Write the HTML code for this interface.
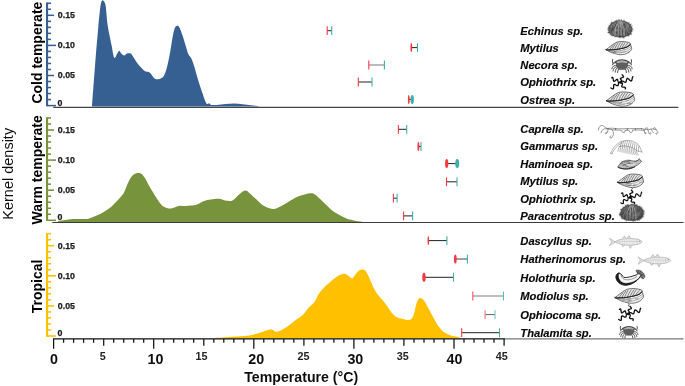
<!DOCTYPE html>
<html><head><meta charset="utf-8"><title>Thermal tolerance kernel density</title>
<style>html,body{margin:0;padding:0;background:#fff}svg{display:block}text{font-family:"Liberation Sans",Arial,sans-serif}.sp{font-size:11.2px;font-weight:bold;font-style:italic;fill:#080808;stroke:#080808;stroke-width:.12px}.yt{font-size:8.8px;font-weight:bold;fill:#1c1c1c;stroke:#1c1c1c;stroke-width:.25px}.xb{font-size:14.3px;font-weight:bold;fill:#111;text-anchor:middle}.xs{font-size:10.8px;font-weight:bold;fill:#222;text-anchor:middle}.pl{font-size:14px;font-weight:bold;fill:#000;text-anchor:middle}</style></head><body>
<svg width="685" height="386" viewBox="0 0 685 386">
<defs><filter id="soft" x="-5%" y="-5%" width="110%" height="110%"><feGaussianBlur stdDeviation="0.35"/></filter><filter id="tx" x="-2%" y="-2%" width="104%" height="104%"><feGaussianBlur stdDeviation="0.3"/></filter></defs>
<rect width="685" height="386" fill="#fff"/>
<path d="M92.0,106.5C92.6,98.2 94.7,70.2 95.7,57.0C96.8,43.8 97.7,34.2 98.3,27.0C98.9,19.8 99.2,17.3 99.6,13.5C100.0,9.7 100.3,6.2 100.8,4.0C101.3,1.8 101.8,0.7 102.4,0.3C103.0,-0.1 103.7,0.9 104.2,1.8C104.7,2.7 105.2,3.3 105.6,5.4C106.0,7.5 106.2,10.9 106.5,14.2C106.8,17.5 107.1,21.7 107.6,25.0C108.1,28.3 108.6,30.8 109.3,34.2C110.0,37.6 110.8,41.7 111.6,45.6C112.4,49.5 113.3,56.4 114.2,57.8C115.1,59.2 116.2,55.2 117.0,54.0C117.8,52.8 118.6,50.8 119.3,50.7C120.0,50.6 120.5,52.8 121.3,53.6C122.1,54.4 123.2,55.6 124.2,55.6C125.2,55.6 125.9,53.9 127.0,53.6C128.1,53.3 129.8,53.2 130.7,53.6C131.6,54.0 131.6,54.5 132.7,56.0C133.8,57.5 135.6,60.7 137.0,62.7C138.4,64.7 140.0,66.4 141.3,67.8C142.6,69.2 143.8,70.5 145.0,71.2C146.2,71.9 147.5,71.6 148.4,72.0C149.3,72.4 149.8,72.6 150.7,73.5C151.5,74.4 152.7,76.6 153.5,77.5C154.3,78.4 154.7,78.7 155.5,79.0C156.3,79.3 157.4,79.3 158.3,79.2C159.2,79.1 160.2,78.9 161.2,78.3C162.1,77.7 163.0,77.4 164.0,75.5C165.0,73.6 166.0,70.8 167.0,67.0C168.0,63.2 169.0,58.2 170.0,53.0C171.0,47.8 172.0,40.2 172.8,36.0C173.6,31.8 174.1,29.7 174.8,28.0C175.5,26.3 176.3,25.9 177.1,25.8C177.9,25.7 178.5,25.8 179.4,27.4C180.3,29.0 181.6,32.6 182.6,35.6C183.6,38.6 184.6,42.5 185.6,45.6C186.6,48.7 187.3,51.9 188.3,54.1C189.3,56.3 190.6,56.9 191.6,59.0C192.6,61.1 193.4,63.8 194.4,67.0C195.4,70.2 196.5,74.4 197.7,78.4C198.9,82.4 200.5,87.4 201.8,91.2C203.1,95.0 204.4,99.1 205.3,101.2C206.2,103.3 206.4,103.7 207.0,104.0C207.6,104.3 208.3,103.0 209.0,103.2C209.7,103.4 210.0,104.6 211.3,104.9C212.6,105.2 214.6,105.1 217.0,104.9C219.4,104.8 222.7,104.2 225.5,104.0C228.3,103.8 231.2,103.5 234.0,103.5C236.8,103.5 239.7,104.0 242.6,104.3C245.5,104.6 248.3,104.8 251.2,105.2C254.0,105.6 258.3,106.3 259.7,106.5L259.7,106.6L92.0,106.6Z" fill="#376092"/>
<path d="M58.0,221.2C58.6,221.1 59.9,220.8 61.7,220.5C63.5,220.2 66.8,219.7 68.7,219.4C70.7,219.1 70.7,219.0 73.4,218.9C76.1,218.8 82.3,219.2 85.0,219.1C87.7,219.0 87.8,218.8 89.7,218.2C91.7,217.6 94.4,216.4 96.7,215.4C99.0,214.4 101.4,213.3 103.7,211.9C106.0,210.5 108.4,209.1 110.7,207.2C113.0,205.2 115.6,202.5 117.7,200.2C119.8,197.9 122.0,195.7 123.6,193.2C125.2,190.7 125.9,187.5 127.1,185.0C128.3,182.5 129.4,179.8 130.6,178.0C131.8,176.2 132.8,175.1 134.1,174.3C135.4,173.5 137.1,173.1 138.3,173.1C139.6,173.1 140.6,173.3 141.6,174.1C142.6,174.8 143.5,176.0 144.6,177.6C145.7,179.2 146.7,181.5 148.1,183.9C149.5,186.3 151.2,189.4 152.8,192.0C154.4,194.6 155.9,197.3 157.5,199.5C159.1,201.7 160.5,204.0 162.1,205.4C163.7,206.8 165.2,207.4 166.8,207.9C168.4,208.4 169.9,208.6 171.5,208.4C173.1,208.2 174.8,207.2 176.1,206.8C177.4,206.4 178.0,205.9 179.6,205.8C181.2,205.7 183.6,206.1 185.5,206.1C187.4,206.1 189.4,205.9 191.3,205.6C193.2,205.3 195.1,205.2 197.2,204.4C199.3,203.6 201.7,201.7 204.0,200.9C206.3,200.1 208.5,199.8 211.0,199.5C213.5,199.2 216.9,198.6 219.2,198.8C221.5,199.0 222.9,200.2 225.0,200.5C227.1,200.8 230.1,201.3 232.0,200.7C233.9,200.1 235.1,198.1 236.7,196.7C238.3,195.3 239.9,193.5 241.4,192.5C242.9,191.5 244.2,190.5 245.6,190.6C247.0,190.7 248.0,191.9 249.6,193.2C251.2,194.5 253.3,196.6 255.4,198.6C257.5,200.6 260.1,203.3 262.4,204.9C264.7,206.5 267.4,207.5 269.4,208.2C271.3,208.9 272.5,209.1 274.1,208.9C275.7,208.7 276.5,208.4 278.8,207.2C281.1,206.0 285.0,203.7 288.1,201.9C291.2,200.2 294.7,197.9 297.4,196.7C300.1,195.4 302.1,195.0 304.5,194.4C306.9,193.8 309.8,193.2 311.5,193.2C313.2,193.2 313.6,193.5 315.0,194.4C316.4,195.3 317.9,197.0 319.6,198.6C321.4,200.2 323.4,202.2 325.5,204.2C327.6,206.2 330.2,208.9 332.5,210.7C334.8,212.5 337.2,213.6 339.5,214.9C341.8,216.2 344.8,217.6 346.5,218.4C348.2,219.2 348.4,219.2 350.0,219.6C351.6,220.0 353.8,220.6 356.0,221.0C358.2,221.4 361.8,221.8 363.0,222.0L363.0,222.2L58.0,222.2Z" fill="#77933c"/>
<path d="M215.0,338.0C216.2,337.9 219.2,337.8 222.5,337.6C225.8,337.4 230.7,336.9 234.8,336.6C238.9,336.3 243.4,336.2 247.1,335.7C250.8,335.2 253.8,334.5 256.9,333.7C260.0,332.9 263.0,331.4 265.5,330.7C268.0,330.0 270.2,329.4 271.7,329.5C273.2,329.6 273.7,330.8 274.6,331.2C275.5,331.6 275.5,332.1 277.1,331.7C278.7,331.3 281.2,330.5 284.0,328.8C286.8,327.1 290.7,323.7 293.8,321.4C296.9,319.1 300.0,317.5 302.5,315.2C305.0,312.9 306.6,310.1 308.6,307.8C310.7,305.6 313.2,303.9 314.8,301.7C316.4,299.4 317.1,296.6 318.5,294.3C319.9,292.1 321.3,290.3 323.4,288.2C325.4,286.1 328.3,283.6 330.8,281.5C333.3,279.4 336.1,277.1 338.2,275.8C340.3,274.5 342.0,274.1 343.4,273.9C344.8,273.7 345.5,273.9 346.5,274.4C347.5,274.9 348.6,276.1 349.5,276.8C350.4,277.5 351.2,278.9 352.2,278.5C353.2,278.1 354.4,275.6 355.6,274.2C356.8,272.8 358.1,271.1 359.4,270.3C360.6,269.5 362.0,269.3 363.1,269.5C364.2,269.7 365.2,270.3 366.2,271.7C367.2,273.1 368.0,275.1 369.2,277.7C370.4,280.3 372.1,284.7 373.5,287.5C374.9,290.3 376.3,292.6 377.5,294.3C378.7,296.1 379.1,296.1 380.6,298.0C382.2,299.9 385.0,302.9 386.8,305.4C388.6,307.9 390.1,310.9 391.7,312.8C393.3,314.7 394.8,316.0 396.6,317.0C398.5,318.0 401.0,318.4 402.8,318.9C404.6,319.4 406.3,319.9 407.7,319.9C409.1,319.9 410.4,319.8 411.4,318.9C412.4,318.0 413.0,316.9 413.8,314.5C414.6,312.1 415.5,306.8 416.3,304.2C417.1,301.6 417.9,299.6 418.8,298.7C419.7,297.8 420.7,298.0 421.7,298.5C422.7,299.0 423.8,300.0 424.9,301.7C426.0,303.4 427.2,305.9 428.6,308.6C430.0,311.3 431.9,314.8 433.5,317.7C435.1,320.6 436.9,324.0 438.5,326.3C440.1,328.6 441.6,330.3 443.4,331.7C445.2,333.1 447.4,334.1 449.5,334.9C451.6,335.7 453.8,336.1 455.7,336.6C457.6,337.1 459.8,337.6 460.6,337.8L460.6,338.6L215.0,338.6Z" fill="#ffc000"/>
<line x1="53.2" y1="107.4" x2="678.3" y2="107.4" stroke="#444" stroke-width="1.25"/>
<line x1="52.3" y1="222.55" x2="683.5" y2="222.55" stroke="#3a3a3a" stroke-width="1.1"/>
<line x1="504" y1="338.9" x2="683.5" y2="338.9" stroke="#777" stroke-width="1.1"/>
<g stroke="#376092" fill="none"><line x1="47.05" y1="2.61" x2="47.05" y2="106.25" stroke-width="2.1"/><line x1="47" y1="105.60" x2="56" y2="105.60" stroke-width="1.55"/><line x1="47" y1="99.58" x2="51" y2="99.58" stroke-width="1.55"/><line x1="47" y1="93.56" x2="51" y2="93.56" stroke-width="1.55"/><line x1="47" y1="87.54" x2="51" y2="87.54" stroke-width="1.55"/><line x1="47" y1="81.52" x2="51" y2="81.52" stroke-width="1.55"/><line x1="47" y1="75.50" x2="54" y2="75.50" stroke-width="1.55"/><line x1="47" y1="69.48" x2="51" y2="69.48" stroke-width="1.55"/><line x1="47" y1="63.46" x2="51" y2="63.46" stroke-width="1.55"/><line x1="47" y1="57.44" x2="51" y2="57.44" stroke-width="1.55"/><line x1="47" y1="51.42" x2="51" y2="51.42" stroke-width="1.55"/><line x1="47" y1="45.40" x2="56" y2="45.40" stroke-width="1.55"/><line x1="47" y1="39.38" x2="51" y2="39.38" stroke-width="1.55"/><line x1="47" y1="33.36" x2="51" y2="33.36" stroke-width="1.55"/><line x1="47" y1="27.34" x2="51" y2="27.34" stroke-width="1.55"/><line x1="47" y1="21.32" x2="51" y2="21.32" stroke-width="1.55"/><line x1="47" y1="15.30" x2="54" y2="15.30" stroke-width="1.55"/><line x1="47" y1="9.28" x2="51" y2="9.28" stroke-width="1.55"/><line x1="47" y1="3.26" x2="51" y2="3.26" stroke-width="1.55"/></g>
<g stroke="#77933c" fill="none"><line x1="47.05" y1="117.31" x2="47.05" y2="220.95" stroke-width="2.1"/><line x1="47" y1="220.30" x2="56" y2="220.30" stroke-width="1.55"/><line x1="47" y1="214.28" x2="51" y2="214.28" stroke-width="1.55"/><line x1="47" y1="208.26" x2="51" y2="208.26" stroke-width="1.55"/><line x1="47" y1="202.24" x2="51" y2="202.24" stroke-width="1.55"/><line x1="47" y1="196.22" x2="51" y2="196.22" stroke-width="1.55"/><line x1="47" y1="190.20" x2="54" y2="190.20" stroke-width="1.55"/><line x1="47" y1="184.18" x2="51" y2="184.18" stroke-width="1.55"/><line x1="47" y1="178.16" x2="51" y2="178.16" stroke-width="1.55"/><line x1="47" y1="172.14" x2="51" y2="172.14" stroke-width="1.55"/><line x1="47" y1="166.12" x2="51" y2="166.12" stroke-width="1.55"/><line x1="47" y1="160.10" x2="56" y2="160.10" stroke-width="1.55"/><line x1="47" y1="154.08" x2="51" y2="154.08" stroke-width="1.55"/><line x1="47" y1="148.06" x2="51" y2="148.06" stroke-width="1.55"/><line x1="47" y1="142.04" x2="51" y2="142.04" stroke-width="1.55"/><line x1="47" y1="136.02" x2="51" y2="136.02" stroke-width="1.55"/><line x1="47" y1="130.00" x2="54" y2="130.00" stroke-width="1.55"/><line x1="47" y1="123.98" x2="51" y2="123.98" stroke-width="1.55"/><line x1="47" y1="117.96" x2="51" y2="117.96" stroke-width="1.55"/></g>
<g stroke="#ffc000" fill="none"><line x1="47.05" y1="233.01" x2="47.05" y2="336.65" stroke-width="2.1"/><line x1="47" y1="336.00" x2="56" y2="336.00" stroke-width="1.55"/><line x1="47" y1="329.98" x2="51" y2="329.98" stroke-width="1.55"/><line x1="47" y1="323.96" x2="51" y2="323.96" stroke-width="1.55"/><line x1="47" y1="317.94" x2="51" y2="317.94" stroke-width="1.55"/><line x1="47" y1="311.92" x2="51" y2="311.92" stroke-width="1.55"/><line x1="47" y1="305.90" x2="54" y2="305.90" stroke-width="1.55"/><line x1="47" y1="299.88" x2="51" y2="299.88" stroke-width="1.55"/><line x1="47" y1="293.86" x2="51" y2="293.86" stroke-width="1.55"/><line x1="47" y1="287.84" x2="51" y2="287.84" stroke-width="1.55"/><line x1="47" y1="281.82" x2="51" y2="281.82" stroke-width="1.55"/><line x1="47" y1="275.80" x2="56" y2="275.80" stroke-width="1.55"/><line x1="47" y1="269.78" x2="51" y2="269.78" stroke-width="1.55"/><line x1="47" y1="263.76" x2="51" y2="263.76" stroke-width="1.55"/><line x1="47" y1="257.74" x2="51" y2="257.74" stroke-width="1.55"/><line x1="47" y1="251.72" x2="51" y2="251.72" stroke-width="1.55"/><line x1="47" y1="245.70" x2="54" y2="245.70" stroke-width="1.55"/><line x1="47" y1="239.68" x2="51" y2="239.68" stroke-width="1.55"/><line x1="47" y1="233.66" x2="51" y2="233.66" stroke-width="1.55"/></g>
<g stroke="#111" fill="none"><line x1="53" y1="338.9" x2="504.6" y2="338.9" stroke-width="1.2"/><line x1="53.6" y1="338.9" x2="53.6" y2="348.8" stroke-width="1.25"/><line x1="63.6" y1="338.9" x2="63.6" y2="342.8" stroke-width="1.25"/><line x1="73.6" y1="338.9" x2="73.6" y2="342.8" stroke-width="1.25"/><line x1="83.6" y1="338.9" x2="83.6" y2="342.8" stroke-width="1.25"/><line x1="93.6" y1="338.9" x2="93.6" y2="342.8" stroke-width="1.25"/><line x1="103.7" y1="338.9" x2="103.7" y2="345.7" stroke-width="1.25"/><line x1="113.7" y1="338.9" x2="113.7" y2="342.8" stroke-width="1.25"/><line x1="123.7" y1="338.9" x2="123.7" y2="342.8" stroke-width="1.25"/><line x1="133.7" y1="338.9" x2="133.7" y2="342.8" stroke-width="1.25"/><line x1="143.7" y1="338.9" x2="143.7" y2="342.8" stroke-width="1.25"/><line x1="153.7" y1="338.9" x2="153.7" y2="348.8" stroke-width="1.25"/><line x1="163.7" y1="338.9" x2="163.7" y2="342.8" stroke-width="1.25"/><line x1="173.7" y1="338.9" x2="173.7" y2="342.8" stroke-width="1.25"/><line x1="183.7" y1="338.9" x2="183.7" y2="342.8" stroke-width="1.25"/><line x1="193.7" y1="338.9" x2="193.7" y2="342.8" stroke-width="1.25"/><line x1="203.8" y1="338.9" x2="203.8" y2="345.7" stroke-width="1.25"/><line x1="213.8" y1="338.9" x2="213.8" y2="342.8" stroke-width="1.25"/><line x1="223.8" y1="338.9" x2="223.8" y2="342.8" stroke-width="1.25"/><line x1="233.8" y1="338.9" x2="233.8" y2="342.8" stroke-width="1.25"/><line x1="243.8" y1="338.9" x2="243.8" y2="342.8" stroke-width="1.25"/><line x1="253.8" y1="338.9" x2="253.8" y2="348.8" stroke-width="1.25"/><line x1="263.8" y1="338.9" x2="263.8" y2="342.8" stroke-width="1.25"/><line x1="273.8" y1="338.9" x2="273.8" y2="342.8" stroke-width="1.25"/><line x1="283.8" y1="338.9" x2="283.8" y2="342.8" stroke-width="1.25"/><line x1="293.8" y1="338.9" x2="293.8" y2="342.8" stroke-width="1.25"/><line x1="303.9" y1="338.9" x2="303.9" y2="345.7" stroke-width="1.25"/><line x1="313.9" y1="338.9" x2="313.9" y2="342.8" stroke-width="1.25"/><line x1="323.9" y1="338.9" x2="323.9" y2="342.8" stroke-width="1.25"/><line x1="333.9" y1="338.9" x2="333.9" y2="342.8" stroke-width="1.25"/><line x1="343.9" y1="338.9" x2="343.9" y2="342.8" stroke-width="1.25"/><line x1="353.9" y1="338.9" x2="353.9" y2="348.8" stroke-width="1.25"/><line x1="363.9" y1="338.9" x2="363.9" y2="342.8" stroke-width="1.25"/><line x1="373.9" y1="338.9" x2="373.9" y2="342.8" stroke-width="1.25"/><line x1="383.9" y1="338.9" x2="383.9" y2="342.8" stroke-width="1.25"/><line x1="393.9" y1="338.9" x2="393.9" y2="342.8" stroke-width="1.25"/><line x1="403.9" y1="338.9" x2="403.9" y2="345.7" stroke-width="1.25"/><line x1="414.0" y1="338.9" x2="414.0" y2="342.8" stroke-width="1.25"/><line x1="424.0" y1="338.9" x2="424.0" y2="342.8" stroke-width="1.25"/><line x1="434.0" y1="338.9" x2="434.0" y2="342.8" stroke-width="1.25"/><line x1="444.0" y1="338.9" x2="444.0" y2="342.8" stroke-width="1.25"/><line x1="454.0" y1="338.9" x2="454.0" y2="348.8" stroke-width="1.25"/><line x1="464.0" y1="338.9" x2="464.0" y2="342.8" stroke-width="1.25"/><line x1="474.0" y1="338.9" x2="474.0" y2="342.8" stroke-width="1.25"/><line x1="484.0" y1="338.9" x2="484.0" y2="342.8" stroke-width="1.25"/><line x1="494.0" y1="338.9" x2="494.0" y2="342.8" stroke-width="1.25"/><line x1="504.1" y1="338.9" x2="504.1" y2="345.7" stroke-width="1.25"/></g>
<g opacity="1"><line x1="327.2" y1="30.7" x2="331.7" y2="30.7" stroke="#222" stroke-width="1"/><line x1="327.2" y1="26.299999999999997" x2="327.2" y2="35.1" stroke="#ff3540" stroke-width="1.1"/><line x1="331.7" y1="26.299999999999997" x2="331.7" y2="35.1" stroke="#3cb0ad" stroke-width="1.1"/></g>
<g opacity="1"><line x1="411.3" y1="47.6" x2="417.5" y2="47.6" stroke="#222" stroke-width="1"/><ellipse cx="411.3" cy="47.6" rx="0.9" ry="4.5" fill="#ff3540"/><line x1="417.5" y1="43.2" x2="417.5" y2="52.0" stroke="#3cb0ad" stroke-width="1.1"/></g>
<g opacity="1"><line x1="368.8" y1="65.0" x2="384.4" y2="65.0" stroke="#777" stroke-width="1"/><line x1="368.8" y1="60.6" x2="368.8" y2="69.4" stroke="#ff3540" stroke-width="1.1"/><line x1="384.4" y1="60.6" x2="384.4" y2="69.4" stroke="#3cb0ad" stroke-width="1.1"/></g>
<g opacity="1"><line x1="358.3" y1="82.0" x2="372.0" y2="82.0" stroke="#222" stroke-width="1"/><line x1="358.3" y1="77.6" x2="358.3" y2="86.4" stroke="#ff3540" stroke-width="1.1"/><line x1="372.0" y1="77.6" x2="372.0" y2="86.4" stroke="#3cb0ad" stroke-width="1.1"/></g>
<g opacity="1"><line x1="408.8" y1="99.4" x2="412.2" y2="99.4" stroke="#222" stroke-width="1"/><ellipse cx="408.8" cy="99.4" rx="0.9" ry="4.5" fill="#ff3540"/><ellipse cx="412.2" cy="99.4" rx="1.7" ry="4.5" fill="#3cb0ad"/></g>
<g opacity="1"><line x1="398.4" y1="129.3" x2="406.7" y2="129.3" stroke="#222" stroke-width="1"/><line x1="398.4" y1="124.9" x2="398.4" y2="133.70000000000002" stroke="#ff3540" stroke-width="1.1"/><line x1="406.7" y1="124.9" x2="406.7" y2="133.70000000000002" stroke="#3cb0ad" stroke-width="1.1"/></g>
<g opacity="1"><line x1="418.4" y1="146.5" x2="421.0" y2="146.5" stroke="#222" stroke-width="1"/><ellipse cx="418.4" cy="146.5" rx="1.0" ry="4.5" fill="#ff3540"/><line x1="421.0" y1="142.1" x2="421.0" y2="150.9" stroke="#3cb0ad" stroke-width="1.1"/></g>
<g opacity="1"><line x1="446.7" y1="163.6" x2="457.2" y2="163.6" stroke="#222" stroke-width="1"/><ellipse cx="446.7" cy="163.6" rx="1.6" ry="4.5" fill="#ff3540"/><ellipse cx="457.2" cy="163.6" rx="2.0" ry="4.5" fill="#3cb0ad"/></g>
<g opacity="1"><line x1="446.5" y1="181.8" x2="457.0" y2="181.8" stroke="#222" stroke-width="1"/><line x1="446.5" y1="177.4" x2="446.5" y2="186.20000000000002" stroke="#ff3540" stroke-width="1.1"/><line x1="457.0" y1="177.4" x2="457.0" y2="186.20000000000002" stroke="#3cb0ad" stroke-width="1.1"/></g>
<g opacity="1"><line x1="393.4" y1="198.2" x2="397.1" y2="198.2" stroke="#222" stroke-width="1"/><line x1="393.4" y1="193.79999999999998" x2="393.4" y2="202.6" stroke="#ff3540" stroke-width="1.1"/><line x1="397.1" y1="193.79999999999998" x2="397.1" y2="202.6" stroke="#3cb0ad" stroke-width="1.1"/></g>
<g opacity="1"><line x1="403.6" y1="215.9" x2="412.6" y2="215.9" stroke="#222" stroke-width="1"/><line x1="403.6" y1="211.5" x2="403.6" y2="220.3" stroke="#ff3540" stroke-width="1.1"/><line x1="412.6" y1="211.5" x2="412.6" y2="220.3" stroke="#3cb0ad" stroke-width="1.1"/></g>
<g opacity="1"><line x1="428.3" y1="240.6" x2="446.9" y2="240.6" stroke="#222" stroke-width="1"/><ellipse cx="428.3" cy="240.6" rx="0.8" ry="4.5" fill="#ff3540"/><line x1="446.9" y1="236.2" x2="446.9" y2="245.0" stroke="#3cb0ad" stroke-width="1.1"/></g>
<g opacity="1"><line x1="455.3" y1="259.0" x2="467.4" y2="259.0" stroke="#444" stroke-width="1"/><ellipse cx="455.3" cy="259.0" rx="1.4" ry="4.5" fill="#ff3540"/><line x1="467.4" y1="254.6" x2="467.4" y2="263.4" stroke="#3cb0ad" stroke-width="1.1"/></g>
<g opacity="1"><line x1="424.0" y1="277.3" x2="453.5" y2="277.3" stroke="#222" stroke-width="1"/><ellipse cx="424.0" cy="277.3" rx="1.7" ry="4.5" fill="#ff3540"/><line x1="453.5" y1="272.90000000000003" x2="453.5" y2="281.7" stroke="#3cb0ad" stroke-width="1.1"/></g>
<g opacity="0.85"><line x1="472.8" y1="296.0" x2="503.5" y2="296.0" stroke="#666" stroke-width="1"/><line x1="472.8" y1="291.6" x2="472.8" y2="300.4" stroke="#ff3540" stroke-width="1.1"/><line x1="503.5" y1="291.6" x2="503.5" y2="300.4" stroke="#3cb0ad" stroke-width="1.1"/></g>
<g opacity="0.7"><line x1="485.1" y1="314.6" x2="495.0" y2="314.6" stroke="#222" stroke-width="1"/><line x1="485.1" y1="310.20000000000005" x2="485.1" y2="319.0" stroke="#ff3540" stroke-width="1.1"/><line x1="495.0" y1="310.20000000000005" x2="495.0" y2="319.0" stroke="#3cb0ad" stroke-width="1.1"/></g>
<g opacity="1"><line x1="461.7" y1="332.7" x2="499.5" y2="332.7" stroke="#222" stroke-width="1"/><line x1="461.7" y1="328.3" x2="461.7" y2="337.09999999999997" stroke="#ff3540" stroke-width="1.1"/><line x1="499.5" y1="328.3" x2="499.5" y2="337.09999999999997" stroke="#3cb0ad" stroke-width="1.1"/></g>
<g filter="url(#soft)">
<g fill="none" stroke-linecap="round"><path d="M610.4,31.8L607.8,32.4M609.8,29.6L608.1,29.5M612.8,23.6L611.9,22.9M629.4,33.4L631.1,33.9M631.4,29.0L632.8,28.9M625.2,34.4L627.3,36.3M623.7,35.2L624.6,36.7M610.0,32.3L608.5,32.7M609.7,30.0L607.8,30.1M631.5,29.9L633.1,30.0M616.4,35.1L615.6,36.9M621.2,21.9L621.4,19.4M630.8,27.7L631.7,27.4M628.7,25.6L631.2,24.1M629.6,32.7L631.8,33.4M628.6,33.0L631.2,34.5M627.3,33.8L629.2,34.8M622.9,22.6L623.8,20.1M624.1,35.8L624.5,36.8M627.6,33.9L629.3,34.9M630.9,28.4L632.3,28.4M622.6,35.6L623.2,37.9M629.3,33.9L630.1,34.3M621.6,22.1L621.7,20.0M628.9,33.3L630.5,34.0M613.2,34.3L611.2,35.9M610.4,26.0L609.3,25.7M629.3,25.2L630.3,24.4M619.5,20.9L619.6,20.1M627.9,24.3L629.2,23.0M631.1,31.6L632.0,31.9M619.7,36.4L619.8,37.8M625.0,35.6L625.7,36.4M610.0,26.7L608.4,26.4M628.4,26.2L630.5,25.1M611.6,31.8L608.8,32.5M611.8,26.7L609.2,25.4M630.6,29.0L632.8,28.8M626.0,34.1L627.7,35.6M616.8,21.3L616.6,20.7M609.6,30.7L608.0,30.6M629.3,32.7L631.4,33.9M619.3,21.4L619.5,19.5M613.9,35.0L612.2,36.3M610.8,33.2L608.9,34.0M613.2,24.3L611.4,22.6M629.4,33.0L631.4,34.3M618.8,22.0L618.5,19.6M610.0,32.3L609.0,32.6M630.4,31.1L632.5,31.3M617.0,22.2L616.5,20.1M619.9,35.3L619.6,37.5M623.0,35.3L623.9,37.8M609.9,32.3L608.7,32.6M623.4,35.6L623.9,37.7M627.4,24.5L629.3,22.8M626.9,34.5L628.4,36.3M617.5,21.2L617.1,20.3M611.0,31.7L608.6,32.3M613.1,24.1L611.7,22.7M630.2,29.1L632.1,28.7M626.6,24.7L629.1,22.5M616.3,35.9L616.0,36.7M611.5,31.5L607.9,32.5M626.0,34.1L628.2,36.0M613.0,23.8L611.7,22.0M616.4,22.9L615.0,20.7M630.3,30.4L632.9,30.3M618.8,35.7L618.4,37.8M612.1,24.2L611.0,23.2M627.9,25.8L631.1,24.2M627.1,34.3L628.6,35.9M612.8,34.2L610.7,35.5M629.7,27.2L632.0,26.2M618.3,21.3L618.2,19.7M622.7,36.3L622.7,38.0M609.7,28.0L608.3,27.5M626.3,23.7L627.6,22.2M610.0,27.3L608.3,27.1M623.5,23.0L624.6,20.0M614.7,35.5L614.2,36.4M609.6,29.1L607.4,28.7M629.8,27.2L632.3,26.1M622.0,35.9L622.3,37.4M613.6,23.6L611.9,21.8M616.5,35.4L615.0,37.3M623.0,36.2L623.6,37.9M611.7,26.6L609.0,25.4M613.0,25.4L609.9,23.4M611.4,33.7L610.0,34.6M616.9,23.0L615.6,20.4M630.9,27.6L632.0,27.3M627.2,34.2L628.9,36.0M610.5,30.8L608.2,31.0M628.5,26.6L631.4,24.9M623.5,35.3L624.7,37.4M613.8,34.8L612.7,35.7M627.5,34.2L629.0,35.1M610.4,28.5L608.1,28.1M611.0,28.6L608.3,28.1" stroke="#3c3c3c" stroke-width=".45" opacity=".75"/><path d="M608.9,30.0C608.9,24.5 613.2,20.8 620.2,20.8C627.2,20.8 631.5,24.5 631.5,30.0C631.5,34.6 628.1,36.6 620.2,36.6C612.3,36.6 608.9,34.6 608.9,30.0Z" fill="#7c7c7c" stroke="#3e3e3e" stroke-width="1.3" stroke-opacity=".65"/><path d="M615.2,25.1l0.4,1.4M623.4,26.7l0.2,1.6M625.1,27.2l-0.2,1.7M622.3,36.2l0.4,0.9M620.8,35.4l-0.2,0.9M623.6,25.1l0.3,0.9M612.9,33.0l-0.5,1.0M616.0,22.4l0.5,0.9M610.9,29.7l0.0,1.5M621.3,31.6l-0.4,0.8M612.9,28.0l0.1,0.9M622.1,32.6l0.3,1.8M623.2,28.8l-0.4,1.8M611.1,31.3l-0.2,1.3M613.2,29.5l0.1,0.8M617.2,22.3l-0.3,1.3M619.7,24.4l-0.3,1.0M618.9,29.9l0.4,1.6M617.4,22.2l0.1,1.2M614.0,26.4l0.5,1.6M619.7,36.0l0.2,1.6M622.9,24.9l0.4,1.7M617.0,22.8l0.3,1.2M619.7,27.7l-0.2,1.3M626.6,30.2l0.1,1.4M621.4,36.1l0.2,1.1M615.8,24.4l0.0,1.2M628.8,30.0l0.2,1.6M621.8,29.8l0.1,1.5M619.9,34.0l-0.4,1.0M617.8,31.4l-0.2,1.7M612.9,28.1l0.5,1.4M628.8,29.8l0.3,0.9M612.5,25.6l-0.5,1.7M624.2,33.6l-0.3,1.3M618.2,28.6l0.4,1.2M612.0,28.9l-0.1,1.1M615.7,24.6l-0.2,1.5M619.8,30.7l-0.3,0.8M625.4,34.6l-0.1,1.7M620.2,28.0l0.5,1.7M629.3,32.7l-0.1,1.3M625.4,29.3l0.0,1.7M618.9,24.1l0.5,1.6M617.3,28.2l0.1,1.3M620.9,31.4l0.0,0.9M612.0,31.8l-0.0,1.1M614.2,27.2l0.3,1.3M630.7,29.9l0.2,1.0M627.9,33.9l0.3,1.4M616.7,32.5l0.2,1.4M613.0,26.2l0.3,1.0M620.3,36.2l0.4,1.7M622.8,30.4l-0.2,1.2M617.7,28.0l0.0,0.9M627.8,32.7l0.1,1.4M615.0,33.1l-0.3,1.1M619.9,22.0l-0.4,0.9M623.3,23.6l0.3,1.0M615.4,31.5l0.3,1.2M614.1,22.9l-0.2,1.3M619.9,21.6l-0.1,1.2M628.4,33.4l-0.4,0.9M613.3,27.6l0.2,1.1M620.7,27.6l-0.3,1.5M625.4,31.7l0.2,1.5M619.4,32.3l-0.1,1.5M617.7,31.6l0.2,1.4M629.3,25.9l0.4,1.2M622.1,25.4l-0.2,1.2M629.5,26.7l-0.3,1.2M615.9,32.8l-0.1,1.2M622.9,34.4l0.3,1.3M624.4,24.4l-0.3,1.6M624.4,26.8l-0.5,1.3M612.4,28.2l0.5,1.5M621.1,27.9l0.0,1.6M622.8,30.9l0.2,1.7M627.6,32.5l-0.4,1.5M617.0,26.5l-0.3,1.6M610.9,29.0l-0.1,1.1M628.8,28.6l-0.0,1.3M618.6,22.8l0.4,1.2M624.2,23.7l0.4,1.6M625.3,22.9l0.5,1.4M611.3,28.9l0.3,1.2M616.6,31.2l0.2,1.8M617.1,31.8l-0.3,1.2M617.4,36.0l-0.4,1.1M626.7,33.3l0.3,1.0M626.9,31.6l0.1,1.7M623.6,30.5l-0.3,1.0M621.0,35.3l0.1,1.0M622.5,33.1l-0.3,1.6M617.2,34.3l0.3,1.3M619.5,35.9l0.4,1.1M610.2,27.5l-0.0,1.0M630.1,31.9l0.3,1.2M612.6,28.9l-0.2,1.8M617.3,26.4l-0.5,1.3M613.6,34.1l0.2,1.4M622.5,32.1l-0.2,1.1M625.5,25.4l0.1,1.8M619.4,34.6l-0.3,1.6M629.9,30.0l0.3,1.6M625.0,31.6l0.2,0.9M612.9,30.5l0.5,1.4M623.9,26.2l0.3,1.2M623.0,28.7l0.3,1.0M612.7,28.3l-0.3,1.6M617.9,33.3l-0.4,1.1M611.3,31.1l-0.1,1.5M625.5,32.4l-0.0,1.8M624.4,23.8l-0.5,1.2M618.9,25.9l0.1,1.3M630.9,30.4l0.3,1.0M615.9,26.9l-0.1,1.3M618.3,33.5l-0.1,1.5M620.0,32.8l0.2,1.1M627.8,27.8l0.2,1.1" stroke="#2e2e2e" stroke-width=".5" opacity=".7"/><path d="M618.3,21.5Q614.0,28.2 614.9,35.3M619.5,21.5Q617.7,28.2 618.1,35.3M620.5,21.5Q621.3,28.2 621.2,35.3M621.6,21.5Q624.9,28.2 624.2,35.3" stroke="#d6d6d6" stroke-width=".6" opacity=".85"/></g>
<g fill="none" stroke-linecap="round" stroke-linejoin="round"><path d="M606.2,49.7C606.7,50.0 608.1,50.9 609.3,51.5C610.4,52.0 611.2,52.6 613.1,53.1C615.0,53.6 618.4,54.7 620.8,54.7C623.2,54.7 625.9,54.0 627.7,53.1C629.5,52.2 631.0,50.5 631.5,49.3C632.1,48.1 631.1,46.8 630.9,46.0C630.7,45.2 630.5,44.7 630.4,44.4C629.8,44.8 628.6,46.3 626.7,47.1C624.8,47.9 621.2,48.6 619.0,49.0C616.8,49.4 615.3,49.6 613.4,49.7C611.4,49.8 608.7,49.9 607.5,49.8C606.3,49.8 606.4,49.6 606.2,49.6Z" fill="#f1f1f1" stroke="#3a3a3a" stroke-width=".7"/><path d="M606.2,49.6C606.7,49.7 608.1,50.2 609.2,50.4C610.4,50.6 611.1,50.8 613.0,50.9C614.9,50.9 618.2,51.1 620.6,50.7C623.0,50.4 625.6,49.5 627.4,48.7C629.1,47.9 630.5,46.5 631.2,46.1M606.2,49.7C606.7,49.9 608.1,50.5 609.2,50.9C610.4,51.3 611.1,51.7 613.0,52.0C614.9,52.3 618.2,52.9 620.6,52.8C623.0,52.6 625.6,51.8 627.4,50.9C629.1,50.1 630.5,48.3 631.2,47.7" stroke="#3a3a3a" stroke-width=".55" opacity="0.65"/><path d="M619.9,52.7l2.8,-0.7M612.8,51.3l2.0,0.1M623.2,51.9l2.6,-0.1M614.8,51.6l1.8,0.2M613.5,52.4l1.6,-0.1M617.8,51.7l3.2,-0.9M613.5,52.6l2.5,-0.8M627.8,52.1l1.7,-0.4M614.7,51.3l2.7,-0.7M623.3,49.7l1.8,0.1" stroke="#3a3a3a" stroke-width=".45" opacity="0.55"/><path d="M606.2,49.6C607.1,48.9 609.5,46.9 611.3,45.6C613.2,44.4 615.1,42.7 617.2,42.1C619.3,41.4 622.1,41.6 624.1,41.7C626.2,41.8 628.5,42.3 629.5,42.8C630.5,43.2 630.2,44.1 630.4,44.4C629.8,44.8 628.6,46.3 626.7,47.1C624.8,47.9 621.2,48.6 619.0,49.0C616.8,49.4 615.3,49.6 613.4,49.7C611.4,49.8 608.7,49.9 607.5,49.8C606.3,49.8 606.4,49.6 606.2,49.6Z" fill="#e9e9e9" stroke="#3a3a3a" stroke-width=".75"/><path d="M609.8,49.5Q611.0,47.2 613.1,45.5M612.2,49.5Q613.5,46.4 615.5,44.0M614.6,49.3Q615.9,45.8 618.0,43.0M617.1,49.0Q618.3,45.6 620.4,42.8M619.5,48.6Q620.8,45.4 622.8,42.7M621.9,48.0Q623.2,45.1 625.0,42.9M624.4,47.4Q625.6,45.1 627.8,43.3M626.8,46.7Q628.0,45.4 630.3,44.6" stroke="#2c2c2c" stroke-width=".8" opacity="0.7000000000000001"/><path d="M606.2,49.6C606.4,49.6 606.3,49.8 607.5,49.8C608.7,49.9 611.4,49.8 613.4,49.7C615.3,49.6 616.8,49.4 619.0,49.0C621.2,48.6 624.8,47.9 626.7,47.1C628.6,46.3 629.8,44.8 630.4,44.4" stroke="#1e1e1e" stroke-width=".9"/></g>
<g fill="none" stroke-linecap="round" stroke-linejoin="round"><path d="M617.4,65.6Q612.4,64.6 611.8,68.8M617.8,66.8Q613.4,66.4 613.0,71.0M618.4,67.8Q615.2,67.8 615.2,72.2M619.2,68.6Q617.4,69.2 617.6,72.6M626.6,65.6Q631.6,64.6 632.2,68.8M626.2,66.8Q630.6,66.4 631.0,71.0M625.6,67.8Q628.8,67.8 628.8,72.2M624.8,68.6Q626.6,69.2 626.4,72.6" stroke="#505050" stroke-width="1.00"/><path d="M615.0,62.0Q622.0,57.8 629.0,62.0" stroke="#484848" stroke-width="1.30"/><path d="M615.6,62.4Q612.4,63.0 612.7,64.8M613.0,63.4Q611.8,61.4 612.8,59.6M628.4,62.4Q631.6,63.0 631.3,64.8M631.0,63.4Q632.2,61.4 631.2,59.6" stroke="#505050" stroke-width="1.05"/><path d="M615.6,62.4Q622.0,60.6 628.4,62.4Q627.4,67.0 624.6,69.6L619.4,69.6Q616.6,67.0 615.6,62.4Z" fill="#5e5e5e" stroke="#4a4a4a" stroke-width="0.50"/><path d="M617.4,62.4Q622.0,61.2 626.6,62.4" stroke="#e8e8e8" stroke-width="0.70"/></g>
<g fill="none" stroke-linecap="round" stroke-linejoin="round"><path d="M620.9,82.3L621.1,82.1L621.3,81.9L621.5,81.7L621.6,81.5L621.7,81.2L621.7,81.0L621.6,80.7L621.5,80.4L621.3,80.1L621.0,79.7L620.8,79.4L620.6,79.1L620.4,78.8L620.4,78.5L620.6,78.3L620.8,78.1L621.2,78.0L621.6,77.8L622.1,77.7L622.5,77.5L622.9,77.3L623.2,77.2L623.4,77.0L623.5,76.7L623.5,76.4L623.3,76.1L623.1,75.8L622.8,75.5L622.5,75.1L622.1,74.8M620.9,82.1L620.5,82.1L620.1,82.2L619.7,82.3L619.3,82.4L618.9,82.5L618.6,82.4L618.3,82.1L618.1,81.7L618.0,81.1L617.8,80.5L617.7,80.0L617.5,79.5L617.2,79.3L616.8,79.4L616.3,79.7L615.8,80.2L615.2,80.7L614.7,81.1L614.2,81.3L613.9,81.4L613.6,81.1L613.4,80.6L613.3,80.0L613.2,79.2L613.1,78.5L613.0,77.9L612.8,77.6L612.5,77.4L612.1,77.5L611.6,77.9M620.8,82.2L620.3,82.3L619.9,82.3L619.5,82.3L619.1,82.5L618.9,82.7L618.7,83.1L618.5,83.7L618.4,84.2L618.3,84.8L618.2,85.3L617.9,85.6L617.5,85.7L617.0,85.6L616.4,85.3L615.8,85.0L615.1,84.6L614.6,84.4L614.1,84.5L613.8,84.7L613.7,85.2L613.6,85.8L613.6,86.6L613.6,87.3L613.6,88.0L613.4,88.5L613.2,88.8L612.7,88.8L612.2,88.6L611.5,88.3L610.9,87.9M620.7,82.4L620.9,82.5L621.2,82.7L621.5,82.8L621.7,83.0L622.0,83.1L622.2,83.3L622.4,83.5L622.5,83.8L622.5,84.1L622.4,84.4L622.3,84.8L622.1,85.2L621.9,85.6L621.8,86.0L621.7,86.4L621.8,86.6L622.0,86.8L622.3,87.0L622.6,87.1L623.1,87.1L623.6,87.2L624.1,87.2L624.5,87.2L624.9,87.3L625.2,87.5L625.4,87.7L625.5,87.9L625.5,88.2L625.4,88.6L625.2,89.0M620.8,82.2L621.1,81.9L621.5,81.5L621.8,81.2L622.3,81.1L622.7,81.1L623.3,81.3L623.8,81.7L624.4,82.0L624.9,82.3L625.4,82.4L625.8,82.1L626.1,81.6L626.3,80.8L626.5,79.9L626.7,79.2L627.0,78.6L627.4,78.4L627.9,78.6L628.5,79.0L629.2,79.6L629.8,80.3L630.5,80.8L631.0,81.0L631.4,80.9L631.7,80.4L632.0,79.7L632.1,78.8L632.3,77.9L632.6,77.2L632.9,76.7" stroke="#111" stroke-width="1.30"/><circle cx="620.8" cy="82.3" r="1.50" fill="#111"/></g>
<g fill="none" stroke-linecap="round" stroke-linejoin="round"><path d="M606.6,100.8C607.2,101.1 608.7,102.1 610.0,102.8C611.3,103.4 612.1,103.9 614.2,104.5C616.3,105.1 620.0,106.3 622.7,106.3C625.4,106.3 628.3,105.5 630.3,104.5C632.3,103.5 633.9,101.7 634.5,100.4C635.1,99.1 634.0,97.7 633.8,96.8C633.6,95.9 633.3,95.4 633.2,95.1C632.6,95.5 631.3,97.2 629.2,98.0C627.1,98.9 623.1,99.6 620.7,100.1C618.3,100.6 616.6,100.7 614.5,100.8C612.4,101.0 609.3,101.0 608.0,101.0C606.7,101.0 606.8,100.7 606.6,100.7Z" fill="#f1f1f1" stroke="#3a3a3a" stroke-width=".7"/><path d="M606.6,100.7C607.2,100.9 608.7,101.3 609.9,101.6C611.2,101.8 612.0,102.1 614.1,102.1C616.2,102.2 619.8,102.3 622.4,101.9C625.1,101.6 628.0,100.6 629.9,99.8C631.9,98.9 633.4,97.4 634.1,96.9M606.6,100.8C607.2,101.0 608.7,101.7 609.9,102.2C611.2,102.6 612.0,103.0 614.1,103.3C616.2,103.7 619.8,104.4 622.4,104.2C625.1,104.0 628.0,103.1 629.9,102.2C631.9,101.3 633.4,99.3 634.1,98.7" stroke="#3a3a3a" stroke-width=".55" opacity="0.65"/><path d="M618.0,103.8l2.9,0.1M616.8,102.4l1.8,-0.6M626.1,101.0l2.6,-0.6M618.6,103.1l3.2,-0.2M613.9,102.4l1.8,0.1M627.4,103.7l3.2,-0.0M629.7,103.0l2.0,0.1M621.9,104.5l2.6,-0.4M619.8,103.1l2.1,-0.8M627.5,103.6l3.5,-0.1" stroke="#3a3a3a" stroke-width=".45" opacity="0.55"/><path d="M606.6,100.7C607.5,100.0 610.2,97.7 612.2,96.4C614.3,95.0 616.4,93.3 618.7,92.5C621.1,91.8 624.1,92.0 626.3,92.1C628.6,92.2 631.1,92.8 632.3,93.3C633.4,93.8 633.1,94.8 633.2,95.1C632.6,95.5 631.3,97.2 629.2,98.0C627.1,98.9 623.1,99.6 620.7,100.1C618.3,100.6 616.6,100.7 614.5,100.8C612.4,101.0 609.3,101.0 608.0,101.0C606.7,101.0 606.8,100.7 606.6,100.7Z" fill="#e9e9e9" stroke="#3a3a3a" stroke-width=".75"/><path d="M610.5,100.6Q612.0,98.1 614.2,96.3M613.2,100.6Q614.7,97.3 617.0,94.7M615.9,100.4Q617.3,96.6 619.4,93.5M618.6,100.0Q620.0,96.4 622.4,93.4M621.3,99.7Q622.7,96.1 624.9,93.2M623.9,99.0Q625.4,95.9 627.4,93.4M626.6,98.3Q628.1,95.8 630.1,93.9M629.3,97.6Q630.7,96.2 632.8,95.3" stroke="#2c2c2c" stroke-width=".8" opacity="0.7000000000000001"/><path d="M606.6,100.7C606.8,100.7 606.7,101.0 608.0,101.0C609.3,101.0 612.4,101.0 614.5,100.8C616.6,100.7 618.3,100.6 620.7,100.1C623.1,99.6 627.1,98.9 629.2,98.0C631.3,97.2 632.6,95.5 633.2,95.1" stroke="#1e1e1e" stroke-width=".9"/></g>
<g fill="none" stroke="#555" stroke-width=".6" stroke-linecap="round" stroke-linejoin="round"><path d="M598.4,130.2C598.8,126.2 600.8,125.0 602.8,125.6C604.4,126.0 605.2,128.0 606.8,128.4M601.0,132.8C601.6,130.0 603.6,128.6 605.6,128.8L608.6,128.8M608.0,129.0C608.0,131.6 606.8,133.8 605.8,134.0C604.8,133.8 605.6,131.8 606.8,132.2M611.8,129.4C614.0,131.8 614.0,135.6 611.8,137.6C610.0,139.0 609.0,137.0 611.0,135.6M606.8,128.4L612.4,128.2L618.4,128.8L641.4,128.5M608.6,129.0L612.4,129.8L618.4,130.1L621.4,130.2Q622.4,133.0 624.0,132.8Q625.2,132.6 625.0,130.2L628.8,130.2Q629.8,133.0 631.4,132.6Q632.4,132.2 632.6,130.0L641.4,130.0M615.4,128.4L615.6,130.0M627.4,128.6L627.4,130.2M635.4,128.6L635.4,130.0M641.4,128.5L644.4,129.2L648.4,129.6L652.4,128.8L656.4,129.8M641.4,130.0L644.4,130.6M643.9,129.6C644.9,131.4 644.0,133.6 645.6,133.8C646.8,133.6 646.0,132.2 645.2,132.6M647.9,129.6C648.6,131.6 648.4,134.0 650.2,134.2C651.6,134.0 651.0,132.4 650.0,132.8M650.9,129.2C652.4,130.4 652.0,132.4 653.4,132.6M656.0,129.8C658.0,130.6 658.6,133.0 656.8,134.0C655.8,134.4 655.4,133.2 656.4,132.8M645.4,129.2L646.0,127.8L647.8,128.2M653.4,129.0L654.2,127.6L655.6,128.4"/></g>
<g fill="none" stroke="#777" stroke-width=".55" stroke-linecap="round" stroke-linejoin="round"><path d="M610.7,153.2C612.3,148.0 617.3,142.6 623.3,141.0C629.3,139.4 636.3,141.6 639.3,146.0C640.7,148.4 641.3,150.8 641.9,152.0M611.9,153.8C613.9,149.0 617.9,144.6 621.9,143.0M610.7,153.2L611.9,153.8M619.3,146.4C624.3,145.0 632.3,146.2 637.3,151.0L641.9,152.0M621.8,141.4L620.2,146.6M623.7,141.1L622.2,146.2M625.6,140.9L624.2,146.0M627.5,141.0L626.3,146.0M629.4,141.3L628.3,146.2M631.2,141.8L630.3,146.7M633.1,142.7L632.3,147.5M635.0,143.7L634.4,148.4M636.9,145.0L636.4,149.6M638.8,146.4L638.4,151.0M619.3,146.6Q618.3,149.2 617.9,151.2M621.0,146.4Q620.1,149.0 619.9,151.7M622.7,146.3Q621.9,148.9 622.0,152.2M624.4,146.3Q623.8,148.9 624.0,152.7M626.1,146.5Q625.6,149.1 626.1,153.2M627.8,146.8Q627.4,149.4 628.1,153.6M629.5,147.3Q629.2,149.9 630.1,154.0M631.2,147.9Q631.0,150.5 632.2,154.3M632.9,148.7Q632.9,151.3 634.2,154.6M634.6,149.6Q634.7,152.2 636.3,154.9M636.3,150.6Q636.5,153.2 638.3,155.2"/></g>
<g fill="none" stroke-linecap="round" stroke-linejoin="round"><path d="M618.0,167.0C619.4,163.0 623.8,160.0 628.8,160.2C632.3,160.4 634.8,162.0 637.2,160.8L639.4,158.6L640.0,160.2L641.6,161.0C640.4,163.4 637.8,164.6 635.8,166.0C631.8,169.0 625.8,169.6 621.8,168.4C620.2,168.0 618.8,167.8 618.0,167.0Z" fill="#bdbdbd" stroke="#333" stroke-width=".6"/><path d="M624.8,164.8C627.8,163.0 632.8,163.0 635.4,164.2C631.8,166.0 627.8,166.2 624.8,164.8Z" fill="#e6e6e6" stroke="none"/><path d="M624.7,162.1l3.3,-0.9M627.8,163.6l2.1,-0.4M620.4,164.0l2.1,-0.9M626.2,166.8l2.2,-0.7M629.2,167.6l3.2,-0.5M634.4,161.3l3.7,-0.7M622.0,161.8l2.6,-0.0M622.5,165.1l3.3,-0.6M628.0,161.4l2.1,-0.8M630.0,164.0l2.6,-0.3M626.6,163.1l3.6,-0.2M623.5,165.0l3.1,0.1" stroke="#222" stroke-width=".55" opacity=".8"/><path d="M618.8,167.6C622.8,169.6 629.8,169.6 634.8,166.8" stroke="#1a1a1a" stroke-width=".9"/></g>
<g fill="none" stroke-linecap="round" stroke-linejoin="round"><path d="M617.7,182.4C618.2,182.7 619.7,183.7 620.8,184.3C622.0,184.8 622.8,185.4 624.7,185.9C626.7,186.5 630.1,187.6 632.5,187.6C635.0,187.6 637.7,186.9 639.5,185.9C641.4,185.0 642.9,183.2 643.4,182.0C644.0,180.8 643.0,179.5 642.8,178.7C642.6,177.8 642.4,177.3 642.3,177.0C641.6,177.4 640.4,179.0 638.5,179.8C636.6,180.6 633.0,181.3 630.7,181.7C628.4,182.2 626.9,182.3 625.0,182.4C623.0,182.6 620.2,182.6 619.0,182.6C617.8,182.6 617.9,182.3 617.7,182.3Z" fill="#f1f1f1" stroke="#3a3a3a" stroke-width=".7"/><path d="M617.7,182.3C618.2,182.5 619.6,182.9 620.8,183.1C621.9,183.4 622.7,183.6 624.6,183.7C626.5,183.7 629.9,183.9 632.3,183.5C634.7,183.1 637.4,182.2 639.2,181.4C641.0,180.6 642.4,179.2 643.1,178.7M617.7,182.4C618.2,182.6 619.6,183.3 620.8,183.7C621.9,184.1 622.7,184.5 624.6,184.8C626.5,185.1 629.9,185.8 632.3,185.6C634.7,185.4 637.4,184.6 639.2,183.7C641.0,182.9 642.4,181.0 643.1,180.4" stroke="#3a3a3a" stroke-width=".55" opacity="0.65"/><path d="M625.9,185.1l2.8,0.2M628.4,184.0l3.0,-0.1M628.9,185.4l2.3,0.0M626.0,183.9l3.3,-0.5M628.3,185.6l2.8,-0.7M632.8,185.5l1.8,-0.1M626.1,184.1l1.7,-0.7M639.5,182.6l3.5,-0.4M633.7,186.2l2.9,-0.8M633.4,185.3l1.9,-0.8" stroke="#3a3a3a" stroke-width=".45" opacity="0.55"/><path d="M617.7,182.3C618.6,181.6 621.0,179.5 622.9,178.2C624.8,177.0 626.7,175.3 628.9,174.6C631.0,173.9 633.8,174.1 635.9,174.2C638.0,174.3 640.3,174.8 641.4,175.3C642.4,175.8 642.1,176.7 642.3,177.0C641.6,177.4 640.4,179.0 638.5,179.8C636.6,180.6 633.0,181.3 630.7,181.7C628.4,182.2 626.9,182.3 625.0,182.4C623.0,182.6 620.2,182.6 619.0,182.6C617.8,182.6 617.9,182.3 617.7,182.3Z" fill="#e9e9e9" stroke="#3a3a3a" stroke-width=".75"/><path d="M621.3,182.2Q622.6,179.9 624.9,178.1M623.8,182.2Q625.1,179.1 627.2,176.6M626.3,182.0Q627.6,178.5 629.5,175.5M628.8,181.7Q630.0,178.2 632.1,175.4M631.2,181.3Q632.5,178.0 634.4,175.2M633.7,180.7Q635.0,177.8 637.2,175.4M636.2,180.1Q637.5,177.7 639.5,175.9M638.6,179.4Q639.9,178.0 641.6,177.2" stroke="#2c2c2c" stroke-width=".8" opacity="0.7000000000000001"/><path d="M617.7,182.3C617.9,182.3 617.8,182.6 619.0,182.6C620.2,182.6 623.0,182.6 625.0,182.4C626.9,182.3 628.4,182.2 630.7,181.7C633.0,181.3 636.6,180.6 638.5,179.8C640.4,179.0 641.6,177.4 642.3,177.0" stroke="#1e1e1e" stroke-width=".9"/></g>
<path d="M631.6,187.6q1.6,.8 .2,1.8q-1.2,.9 .6,1.6" fill="none" stroke="#222" stroke-width=".7"/>
<path d="M628.4,303.4q1.4,.7 .2,1.5q-1,.8 .5,1.3" fill="none" stroke="#222" stroke-width=".7"/>
<g fill="none" stroke-linecap="round" stroke-linejoin="round"><path d="M630.3,197.5L630.5,197.3L630.7,197.1L630.9,196.9L631.0,196.7L631.1,196.5L631.1,196.2L631.0,196.0L630.8,195.7L630.6,195.4L630.4,195.1L630.2,194.8L630.0,194.5L629.9,194.2L629.8,193.9L630.0,193.7L630.2,193.5L630.6,193.4L631.0,193.2L631.4,193.1L631.8,192.9L632.2,192.8L632.5,192.6L632.7,192.4L632.8,192.2L632.8,191.9L632.6,191.7L632.4,191.3L632.1,191.0L631.8,190.7L631.5,190.4M630.3,197.3L629.9,197.3L629.5,197.4L629.1,197.5L628.8,197.6L628.4,197.7L628.1,197.6L627.9,197.3L627.7,196.9L627.5,196.4L627.4,195.8L627.2,195.3L627.1,194.9L626.8,194.7L626.4,194.7L626.0,195.0L625.4,195.5L624.9,195.9L624.4,196.3L624.0,196.6L623.6,196.6L623.4,196.4L623.2,195.9L623.1,195.3L623.0,194.6L622.9,193.9L622.8,193.4L622.6,193.0L622.3,192.9L621.9,193.0L621.4,193.3M630.2,197.4L629.8,197.5L629.3,197.5L629.0,197.5L628.6,197.7L628.3,197.9L628.2,198.3L628.0,198.8L627.9,199.3L627.8,199.9L627.7,200.3L627.4,200.6L627.1,200.7L626.6,200.6L626.0,200.4L625.4,200.0L624.8,199.7L624.3,199.5L623.9,199.6L623.6,199.8L623.4,200.2L623.4,200.9L623.4,201.6L623.4,202.3L623.4,202.9L623.2,203.4L622.9,203.6L622.5,203.7L622.0,203.5L621.4,203.2L620.8,202.8M630.1,197.6L630.3,197.7L630.6,197.9L630.8,198.0L631.1,198.2L631.4,198.3L631.6,198.5L631.7,198.7L631.8,198.9L631.8,199.2L631.7,199.5L631.6,199.9L631.5,200.3L631.3,200.7L631.1,201.1L631.1,201.4L631.2,201.6L631.3,201.8L631.6,202.0L632.0,202.0L632.4,202.1L632.8,202.1L633.3,202.2L633.7,202.2L634.1,202.3L634.4,202.4L634.6,202.6L634.6,202.8L634.6,203.1L634.5,203.5L634.4,203.9M630.2,197.4L630.5,197.1L630.8,196.7L631.2,196.5L631.6,196.3L632.0,196.4L632.5,196.6L633.1,196.9L633.6,197.2L634.1,197.5L634.6,197.6L635.0,197.3L635.2,196.8L635.5,196.1L635.6,195.3L635.8,194.5L636.1,194.0L636.5,193.8L637.0,193.9L637.6,194.4L638.2,195.0L638.8,195.6L639.4,196.1L639.9,196.3L640.3,196.2L640.6,195.7L640.8,195.0L641.0,194.1L641.2,193.3L641.4,192.6L641.7,192.2" stroke="#111" stroke-width="1.23"/><circle cx="630.2" cy="197.5" r="1.42" fill="#111"/></g>
<g fill="none" stroke-linecap="round"><path d="M640.8,212.4L644.3,211.5M641.0,213.4L644.8,213.3M639.0,207.0L639.5,206.3M629.5,206.6L628.7,204.6M638.8,207.2L639.8,205.8M641.0,210.3L642.7,209.5M624.0,216.5L621.1,217.7M622.0,210.2L620.6,209.7M639.3,207.2L640.3,206.6M641.2,214.6L643.9,215.0M628.1,206.1L627.6,204.8M639.0,209.2L640.9,207.6M621.4,215.2L619.8,215.5M622.6,213.9L619.1,214.0M632.9,219.4L633.4,221.7M640.0,209.6L642.0,208.2M641.0,209.3L642.2,208.3M622.2,214.3L619.2,214.0M631.5,206.3L631.5,204.4M640.8,211.4L643.6,210.5M641.0,212.9L643.8,212.7M622.9,210.6L620.5,209.5M628.6,206.8L627.6,205.1M626.8,219.1L626.0,220.3M624.3,208.3L622.7,207.2M636.7,206.2L637.9,204.7M642.4,214.6L644.2,214.6M622.8,213.2L620.0,212.7M626.6,219.4L626.0,220.7M627.7,219.3L626.8,220.9M640.7,215.9L643.9,217.0M640.4,217.8L641.8,218.6M639.3,209.4L641.3,208.0M631.2,205.8L631.3,204.0M623.6,217.7L622.7,218.2M637.8,218.9L639.0,220.5M623.0,210.1L620.8,209.2M633.1,219.7L633.6,221.3M622.2,212.5L620.3,212.1M633.7,206.3L634.7,203.8M626.8,207.2L625.5,205.7M630.4,220.2L630.1,220.8M628.5,205.9L628.2,204.9M634.9,219.7L635.3,221.4M621.3,212.1L620.2,212.0M638.0,208.5L640.1,206.5M639.0,208.5L640.9,206.9M622.1,214.7L619.7,214.9M623.0,216.3L620.1,216.8M632.2,220.2L632.3,220.9M639.5,209.6L642.3,208.2M624.4,208.8L623.0,207.8M621.5,215.4L620.0,215.5M623.4,217.3L621.7,218.5M641.5,211.7L643.9,211.4M622.9,210.5L621.1,209.9M632.7,205.9L633.0,203.8M628.0,206.9L626.7,204.5M636.9,219.5L638.1,220.8M639.9,208.4L641.1,207.5M640.2,210.5L643.0,209.0M638.6,219.0L639.5,220.5M634.6,206.4L635.3,204.4M636.1,206.2L636.9,204.8M623.2,217.5L621.3,218.3M627.7,219.0L626.5,221.2M627.3,207.7L625.8,205.7M627.6,207.3L625.8,205.1M628.2,206.1L627.5,204.9M631.9,219.7L632.1,221.0M635.7,205.6L636.0,204.9M626.0,206.5L625.3,205.5M633.5,205.5L633.8,203.8M635.4,207.3L636.5,204.3M626.0,218.4L624.4,219.9M623.7,210.0L621.6,208.8M640.9,210.7L642.8,210.1M640.2,208.3L641.5,207.3M642.1,216.5L643.4,216.7M625.6,208.9L623.4,206.9M635.2,206.6L635.8,204.8M635.9,207.3L637.1,205.2M642.4,211.4L644.2,210.5M622.7,213.9L619.5,213.7M621.6,214.7L619.5,214.9M624.7,217.4L622.0,218.5M642.8,212.2L644.6,212.0M622.8,214.1L619.3,214.5M641.9,210.3L643.1,210.0M632.4,205.3L632.4,204.4M638.2,219.2L638.8,219.9M632.1,206.1L632.3,203.8M624.0,218.3L622.7,219.1M630.8,205.7L630.8,204.3M640.6,211.4L643.4,210.3M638.9,218.3L640.5,219.2M621.5,214.7L620.1,214.7M626.2,206.7L625.3,204.9M625.6,217.7L623.6,219.2M637.9,207.7L639.6,206.0" stroke="#3c3c3c" stroke-width=".45" opacity=".75"/><path d="M620.8,214.0C620.8,208.6 625.1,205.0 632.0,205.0C638.9,205.0 643.2,208.6 643.2,214.0C643.2,218.4 639.8,220.3 632.0,220.3C624.2,220.3 620.8,218.4 620.8,214.0Z" fill="#6a6a6a" stroke="#3e3e3e" stroke-width="1.3" stroke-opacity=".65"/><path d="M621.7,215.5l0.2,1.4M634.6,216.5l0.2,1.2M623.2,210.2l0.2,1.6M630.1,215.2l-0.2,1.7M632.2,216.1l-0.4,1.8M632.7,215.6l-0.1,0.8M630.9,207.0l-0.1,1.5M641.4,214.6l0.1,1.6M638.5,218.6l0.5,1.3M628.8,217.9l0.2,1.3M622.0,211.7l0.2,1.2M640.0,209.9l-0.5,1.3M630.1,217.1l-0.1,1.6M627.9,211.3l-0.4,1.0M626.5,217.1l-0.0,1.2M626.2,213.2l0.5,1.0M626.1,217.6l0.3,1.2M628.4,210.8l-0.5,1.8M640.5,216.2l-0.5,1.1M622.0,213.2l0.3,1.1M641.2,214.3l0.2,1.7M637.8,217.6l0.1,1.7M637.4,207.9l0.3,0.9M640.2,213.5l0.4,1.0M622.0,213.2l0.5,1.4M633.3,213.2l-0.4,1.1M638.3,208.9l-0.1,1.7M628.0,213.7l0.4,1.5M641.4,213.7l0.0,1.7M632.6,214.4l-0.2,1.8M639.9,216.7l0.0,0.9M634.3,218.9l-0.1,1.7M639.7,215.4l0.4,1.0M630.6,218.5l-0.3,1.4M637.3,211.7l-0.3,1.7M641.3,215.8l-0.1,1.6M624.6,218.1l0.2,1.4M639.3,216.0l-0.3,1.5M629.9,216.6l-0.4,1.1M636.0,216.2l0.0,1.7M633.1,208.9l0.4,1.2M625.0,216.0l0.1,1.3M629.5,210.8l-0.3,1.1M627.0,215.1l0.1,0.9M625.6,215.9l0.1,0.9M628.0,209.2l0.4,0.9M624.4,217.1l0.4,1.6M637.4,210.4l-0.3,1.1M626.3,208.8l-0.1,1.0M636.3,210.6l-0.3,1.6M633.4,207.1l0.3,1.4M627.2,210.3l-0.3,1.7M639.3,217.3l-0.2,1.5M639.6,209.5l-0.5,1.7M632.6,217.1l0.5,1.6M637.3,218.7l-0.2,1.4M633.1,211.9l-0.3,0.9M638.3,218.4l-0.5,1.1M632.9,213.0l-0.0,1.6M640.3,210.0l-0.4,0.8M631.6,208.2l-0.0,1.5M633.9,209.8l0.5,1.1M634.1,212.3l-0.5,1.4M631.9,207.2l-0.4,1.7M641.0,210.2l0.2,0.8M627.7,214.9l-0.3,1.3M637.2,208.6l0.5,1.2M640.0,216.9l0.4,1.3M632.9,218.8l-0.2,1.2M624.4,210.1l0.2,0.9M625.9,216.5l-0.2,0.9M631.5,217.9l0.1,1.8M634.3,218.3l-0.3,0.9M630.6,217.8l0.3,1.1M640.9,211.6l-0.1,1.7M631.8,214.8l-0.0,1.4M631.5,213.0l-0.5,1.5M638.6,211.2l0.3,1.0M636.5,217.2l0.5,0.9M623.4,212.6l-0.5,1.6M635.3,219.1l0.1,0.9M633.7,217.8l-0.4,1.5M628.6,215.0l-0.3,1.5M625.0,215.8l-0.3,1.1M632.7,218.0l-0.4,0.8M642.0,211.5l-0.5,1.7M629.8,218.2l0.0,0.9M628.2,217.3l0.0,1.3M627.0,217.2l-0.4,1.5M628.1,212.0l-0.0,1.3M626.9,214.1l-0.0,1.4M641.8,213.3l0.3,1.2M626.0,213.4l0.1,1.6M634.2,205.9l0.3,1.6M627.1,214.7l-0.1,1.3M624.6,214.6l-0.5,1.8M627.5,216.3l0.3,1.2M632.6,211.3l0.0,0.8M622.5,213.8l-0.2,1.4M631.5,208.5l-0.3,1.5M639.1,208.0l0.5,1.7M626.1,218.0l0.3,1.2M635.0,212.1l0.2,1.5M632.5,216.1l0.2,0.9M628.5,219.4l0.2,1.2M626.7,215.1l0.2,1.4M628.3,211.1l0.4,1.1M628.4,206.0l0.4,0.8M623.3,212.1l-0.0,1.1M633.0,217.5l0.2,1.3M635.1,210.3l0.2,1.8M628.4,217.1l-0.2,0.9M635.3,219.0l-0.2,1.1M632.3,213.5l-0.2,1.0M629.4,215.7l0.2,1.1M630.3,211.2l0.4,0.9M632.9,210.7l-0.1,1.4M638.6,216.4l0.1,1.2M631.5,207.7l-0.5,1.6M636.0,213.5l-0.3,1.4" stroke="#2e2e2e" stroke-width=".5" opacity=".7"/><path d="M630.2,205.7Q625.8,212.2 626.8,219.0M631.3,205.7Q629.5,212.2 629.9,219.0M632.3,205.7Q633.1,212.2 633.0,219.0M633.4,205.7Q636.7,212.2 636.0,219.0" stroke="#d6d6d6" stroke-width=".6" opacity=".85"/></g>
<g fill="none" stroke-linecap="round" stroke-linejoin="round"><path d="M614.9,241.8C619.2,238.8 627.3,238.1 634.8,238.8C639.4,239.4 642.0,240.8 642.0,241.9C641.3,243.4 637.4,244.8 630.9,245.3C624.1,245.5 618.5,244.2 614.9,241.8Z" fill="#ececec" stroke="#a8a8a8" stroke-width=".7"/><path d="M614.9,241.8L609.4,238.2L611.7,241.8L609.7,245.4Z" fill="#e2e2e2" stroke="#a8a8a8" stroke-width=".6"/><path d="M622.4,238.5L624.4,235.9L626.0,238.2M627.0,238.2L629.0,235.5L630.6,238.4M621.8,244.8L622.8,246.8L624.7,245.3M629.0,245.4L630.3,248.4L631.9,245.1" fill="#ddd" stroke="#a8a8a8" stroke-width=".6"/><path d="M615.9,241.8Q627.3,240.9 638.7,241.7M637.4,239.2Q635.5,241.8 637.4,244.4" stroke="#b8b8b8" stroke-width=".5"/><path d="M619.2,239.6L620.2,244.0M621.6,239.6L622.6,244.0M624.1,239.6L625.0,244.0M626.5,239.6L627.5,244.0M629.0,239.6L629.9,244.0M631.4,239.6L632.4,244.0M633.9,239.6L634.8,244.0" stroke="#cfcfcf" stroke-width=".4"/><circle cx="639.7" cy="241.2" r=".7" fill="#999"/></g>
<g fill="none" stroke-linecap="round" stroke-linejoin="round"><path d="M643.5,260.4C647.8,257.4 655.9,256.7 663.4,257.4C668.0,258.0 670.6,259.4 670.6,260.5C669.9,262.0 666.0,263.4 659.5,263.9C652.7,264.1 647.1,262.8 643.5,260.4Z" fill="#ececec" stroke="#a8a8a8" stroke-width=".7"/><path d="M643.5,260.4L638.0,256.8L640.3,260.4L638.3,264.0Z" fill="#e2e2e2" stroke="#a8a8a8" stroke-width=".6"/><path d="M651.0,257.1L653.0,254.5L654.6,256.8M655.6,256.8L657.6,254.1L659.2,257.0M650.4,263.4L651.4,265.4L653.3,263.9M657.6,264.0L658.9,267.0L660.5,263.7" fill="#ddd" stroke="#a8a8a8" stroke-width=".6"/><path d="M644.5,260.4Q655.9,259.5 667.3,260.3M666.0,257.8Q664.1,260.4 666.0,263.0" stroke="#b8b8b8" stroke-width=".5"/><path d="M647.8,258.2L648.8,262.6M650.2,258.2L651.2,262.6M652.7,258.2L653.6,262.6M655.1,258.2L656.1,262.6M657.6,258.2L658.5,262.6M660.0,258.2L661.0,262.6M662.5,258.2L663.4,262.6" stroke="#cfcfcf" stroke-width=".4"/><circle cx="668.3" cy="259.8" r=".7" fill="#999"/></g>
<g stroke-linecap="round" stroke-linejoin="round"><path d="M619.0,273.2C616.4,273.0 615.1,276.6 616.6,279.8C618.4,283.8 623.0,285.6 627.0,285.1C632.0,284.6 637.0,281.2 640.2,276.8L638.6,274.0L636.0,275.0C632.0,276.4 627.0,278.0 623.8,277.4C622.6,276.6 622.0,273.4 619.0,273.2Z" fill="#f6f6f6" stroke="#151515" stroke-width=".9"/><path d="M619.0,273.2C616.4,273.0 615.1,276.6 616.6,279.8C618.4,283.8 623.0,285.6 627.0,285.1C632.0,284.6 637.0,281.2 640.2,276.8C636.2,281.6 629.0,283.9 624.0,283.0C620.0,282.0 618.2,278.0 618.6,275.2C618.8,274.2 619.0,273.6 619.0,273.2Z" fill="#1e1e1e" stroke="#1a1a1a" stroke-width=".3"/><path d="M621.0,275.2C621.6,278.4 624.0,280.0 628.0,279.8C631.0,279.6 634.0,278.4 637.0,276.6" fill="none" stroke="#444" stroke-width=".5"/><path d="M638.0,274.4L635.8,270.4C639.0,269.0 643.4,271.4 644.9,276.2C645.2,277.6 643.6,279.2 642.2,278.8L640.2,276.8Z" fill="#9a9a9a" stroke="#444" stroke-width=".5"/><path d="M639.0,275.4L636.8,270.8M639.0,275.4L638.8,270.4M639.0,275.4L640.8,271.0M639.0,275.4L642.6,272.2M639.0,275.4L643.8,274.0M639.0,275.4L644.4,276.0M639.0,275.4L643.4,278.2" fill="none" stroke="#2a2a2a" stroke-width=".7"/><ellipse cx="638.6" cy="275.5" rx="1.5" ry="1.3" fill="#fafafa"/></g>
<g fill="none" stroke-linecap="round" stroke-linejoin="round"><path d="M615.2,297.7C615.8,298.0 617.3,299.0 618.6,299.6C619.9,300.3 620.8,300.9 622.9,301.5C625.0,302.1 628.7,303.3 631.4,303.3C634.2,303.3 637.1,302.5 639.1,301.5C641.1,300.5 642.8,298.5 643.4,297.2C644.0,295.9 642.9,294.5 642.7,293.6C642.5,292.7 642.2,292.0 642.1,291.7C641.4,292.3 640.1,293.9 638.0,294.8C635.9,295.6 631.9,296.4 629.5,296.9C627.0,297.4 625.3,297.5 623.2,297.7C621.0,297.8 618.0,297.8 616.6,297.8C615.3,297.8 615.4,297.6 615.2,297.5Z" fill="#f1f1f1" stroke="#3a3a3a" stroke-width=".7"/><path d="M615.2,297.6C615.8,297.7 617.3,298.2 618.6,298.4C619.8,298.7 620.7,298.9 622.8,299.0C624.9,299.1 628.5,299.2 631.2,298.8C633.9,298.4 636.8,297.4 638.8,296.6C640.7,295.7 642.3,294.1 643.0,293.7M615.2,297.6C615.8,297.9 617.3,298.6 618.6,299.0C619.8,299.5 620.7,299.9 622.8,300.3C624.9,300.6 628.5,301.3 631.2,301.1C633.9,300.9 636.8,300.0 638.8,299.1C640.7,298.1 642.3,296.1 643.0,295.5" stroke="#3a3a3a" stroke-width=".55" opacity="0.65"/><path d="M628.5,300.2l2.3,-0.4M629.3,300.9l2.0,-0.1M622.5,299.3l2.2,-0.7M635.0,298.6l3.1,0.2M626.7,301.4l3.1,-0.1M622.8,299.7l2.8,-0.5M626.2,299.5l2.0,0.0M628.3,300.0l2.8,0.2M627.3,298.6l3.4,0.1M635.8,299.4l2.0,-0.7" stroke="#3a3a3a" stroke-width=".45" opacity="0.55"/><path d="M615.2,297.5C616.2,296.8 618.9,294.5 620.9,293.1C622.9,291.7 625.1,289.9 627.5,289.2C629.8,288.4 632.9,288.6 635.2,288.7C637.4,288.8 640.0,289.4 641.1,289.9C642.3,290.4 642.0,291.4 642.1,291.7C641.4,292.3 640.1,293.9 638.0,294.8C635.9,295.6 631.9,296.4 629.5,296.9C627.0,297.4 625.3,297.5 623.2,297.7C621.0,297.8 618.0,297.8 616.6,297.8C615.3,297.8 615.4,297.6 615.2,297.5Z" fill="#e9e9e9" stroke="#3a3a3a" stroke-width=".75"/><path d="M619.2,297.5Q620.6,294.9 622.8,293.0M621.9,297.4Q623.4,294.1 625.6,291.3M624.6,297.2Q626.1,293.4 628.0,290.2M627.3,296.9Q628.8,293.1 631.1,290.0M630.0,296.5Q631.5,292.9 633.9,289.9M632.7,295.8Q634.2,292.6 636.1,290.0M635.4,295.1Q636.9,292.5 639.3,290.6M638.1,294.4Q639.5,292.9 641.7,292.0" stroke="#2c2c2c" stroke-width=".8" opacity="0.7000000000000001"/><path d="M615.2,297.5C615.4,297.6 615.3,297.8 616.6,297.8C618.0,297.8 621.0,297.8 623.2,297.7C625.3,297.5 627.0,297.4 629.5,296.9C631.9,296.4 635.9,295.6 638.0,294.8C640.1,293.9 641.4,292.3 642.1,291.7" stroke="#1e1e1e" stroke-width=".9"/></g>
<g fill="none" stroke-linecap="round" stroke-linejoin="round"><path d="M628.7,313.8L628.9,313.6L629.1,313.4L629.3,313.2L629.4,313.0L629.5,312.7L629.5,312.5L629.4,312.2L629.3,311.9L629.1,311.6L628.8,311.2L628.6,310.9L628.4,310.6L628.2,310.3L628.2,310.0L628.4,309.8L628.6,309.6L629.0,309.5L629.4,309.3L629.9,309.2L630.3,309.0L630.7,308.8L631.0,308.7L631.2,308.5L631.3,308.2L631.3,307.9L631.1,307.6L630.9,307.3L630.6,307.0L630.3,306.6L629.9,306.3M628.7,313.6L628.3,313.6L627.9,313.7L627.5,313.8L627.1,313.9L626.7,314.0L626.4,313.9L626.1,313.6L625.9,313.2L625.8,312.6L625.6,312.0L625.5,311.5L625.3,311.0L625.0,310.8L624.6,310.9L624.1,311.2L623.6,311.7L623.0,312.2L622.5,312.6L622.0,312.8L621.7,312.9L621.4,312.6L621.2,312.1L621.1,311.5L621.0,310.7L620.9,310.0L620.8,309.4L620.6,309.1L620.3,308.9L619.9,309.0L619.4,309.4M628.6,313.7L628.1,313.8L627.7,313.8L627.3,313.8L626.9,314.0L626.7,314.2L626.5,314.6L626.3,315.2L626.2,315.7L626.1,316.3L626.0,316.8L625.7,317.1L625.3,317.2L624.8,317.1L624.2,316.8L623.6,316.5L622.9,316.1L622.4,315.9L621.9,316.0L621.6,316.2L621.5,316.7L621.4,317.3L621.4,318.1L621.4,318.8L621.4,319.5L621.2,320.0L621.0,320.3L620.5,320.3L620.0,320.1L619.3,319.8L618.7,319.4M628.5,313.9L628.7,314.0L629.0,314.2L629.3,314.3L629.5,314.5L629.8,314.6L630.0,314.8L630.2,315.0L630.3,315.3L630.3,315.6L630.2,315.9L630.1,316.3L629.9,316.7L629.7,317.1L629.6,317.5L629.5,317.9L629.6,318.1L629.8,318.3L630.1,318.5L630.4,318.6L630.9,318.6L631.4,318.7L631.9,318.7L632.3,318.7L632.7,318.8L633.0,319.0L633.2,319.2L633.3,319.4L633.3,319.7L633.2,320.1L633.0,320.5M628.6,313.7L628.9,313.4L629.3,313.0L629.6,312.7L630.1,312.6L630.5,312.6L631.1,312.8L631.6,313.2L632.2,313.5L632.7,313.8L633.2,313.9L633.6,313.6L633.9,313.1L634.1,312.3L634.3,311.4L634.5,310.7L634.8,310.1L635.2,309.9L635.7,310.1L636.3,310.5L637.0,311.1L637.6,311.8L638.3,312.3L638.8,312.5L639.2,312.4L639.5,311.9L639.8,311.2L639.9,310.3L640.1,309.4L640.4,308.7L640.7,308.2" stroke="#111" stroke-width="1.30"/><circle cx="628.6" cy="313.8" r="1.50" fill="#111"/></g>
<g fill="none" stroke-linecap="round" stroke-linejoin="round"><path d="M624.7,331.7Q620.2,330.8 619.6,334.6M625.0,332.8Q621.1,332.5 620.7,336.6M625.6,333.7Q622.7,333.7 622.7,337.7M626.3,334.4Q624.7,335.0 624.8,338.0M632.9,331.7Q637.4,330.8 638.0,334.6M632.6,332.8Q636.5,332.5 636.9,336.6M632.0,333.7Q634.9,333.7 634.9,337.7M631.3,334.4Q632.9,335.0 632.8,338.0" stroke="#505050" stroke-width="0.90"/><path d="M622.5,328.5Q628.8,324.7 635.1,328.5" stroke="#484848" stroke-width="1.17"/><path d="M623.0,328.9Q620.2,329.4 620.4,331.0M620.7,329.8Q619.6,328.0 620.5,326.3M634.6,328.9Q637.4,329.4 637.2,331.0M636.9,329.8Q638.0,328.0 637.1,326.3" stroke="#505050" stroke-width="0.95"/><path d="M623.0,328.9Q628.8,327.2 634.6,328.9Q633.7,333.0 631.1,335.3L626.5,335.3Q623.9,333.0 623.0,328.9Z" fill="#5e5e5e" stroke="#4a4a4a" stroke-width="0.45"/><path d="M624.7,328.9Q628.8,327.8 632.9,328.9" stroke="#e8e8e8" stroke-width="0.63"/></g>
</g>
<g filter="url(#tx)">
<text class="yt" x="57.8" y="18">0.15</text>
<text class="yt" x="57.8" y="48">0.10</text>
<text class="yt" x="57.8" y="78">0.05</text>
<text class="yt" x="57.6" y="106">0</text>
<text class="yt" x="57.8" y="133">0.15</text>
<text class="yt" x="57.8" y="163">0.10</text>
<text class="yt" x="57.8" y="193">0.05</text>
<text class="yt" x="57.6" y="220">0</text>
<text class="yt" x="57.8" y="249">0.15</text>
<text class="yt" x="57.8" y="279">0.10</text>
<text class="yt" x="57.8" y="309">0.05</text>
<text class="yt" x="57.6" y="336">0</text>
<text class="xb" x="54.04" y="364">0</text>
<text class="xs" x="102.64" y="360">5</text>
<text class="xb" x="155.50" y="364">10</text>
<text class="xs" x="201.59" y="360">15</text>
<text class="xb" x="256.31" y="364">20</text>
<text class="xs" x="303.63" y="360">25</text>
<text class="xb" x="355.34" y="364">30</text>
<text class="xs" x="402.70" y="360">35</text>
<text class="xb" x="454.43" y="364">40</text>
<text class="xs" x="501.76" y="360">45</text>
<text x="301.2" y="382" style="font-size:14.15px;font-weight:bold;fill:#111;text-anchor:middle">Temperature (°C)</text>
<text class="pl" transform="translate(41.9,52.6) rotate(-90)">Cold temperate</text>
<text class="pl" transform="translate(41.9,169.8) rotate(-90)">Warm temperate</text>
<text class="pl" transform="translate(41.9,286.4) rotate(-90)">Tropical</text>
<text transform="translate(12.7,173.8) rotate(-90)" style="font-size:14.5px;fill:#111;text-anchor:middle">Kernel density</text>
<text class="sp" x="520.3" y="35">Echinus sp.</text>
<text class="sp" x="520.3" y="52">Mytilus</text>
<text class="sp" x="520.3" y="69">Necora sp.</text>
<text class="sp" x="520.3" y="86">Ophiothrix sp.</text>
<text class="sp" x="520.3" y="104">Ostrea sp.</text>
<text class="sp" x="520.3" y="133">Caprella sp.</text>
<text class="sp" x="520.3" y="150">Gammarus sp.</text>
<text class="sp" x="520.3" y="168">Haminoea sp.</text>
<text class="sp" x="520.3" y="185">Mytilus sp.</text>
<text class="sp" x="520.3" y="203">Ophiothrix sp.</text>
<text class="sp" x="520.3" y="220">Paracentrotus sp.</text>
<text class="sp" x="520.3" y="245">Dascyllus sp.</text>
<text class="sp" x="520.3" y="263">Hatherinomorus sp.</text>
<text class="sp" x="520.3" y="282">Holothuria sp.</text>
<text class="sp" x="520.3" y="300">Modiolus sp.</text>
<text class="sp" x="520.3" y="319">Ophiocoma sp.</text>
<text class="sp" x="520.3" y="337">Thalamita sp.</text>
</g>
</svg></body></html>
